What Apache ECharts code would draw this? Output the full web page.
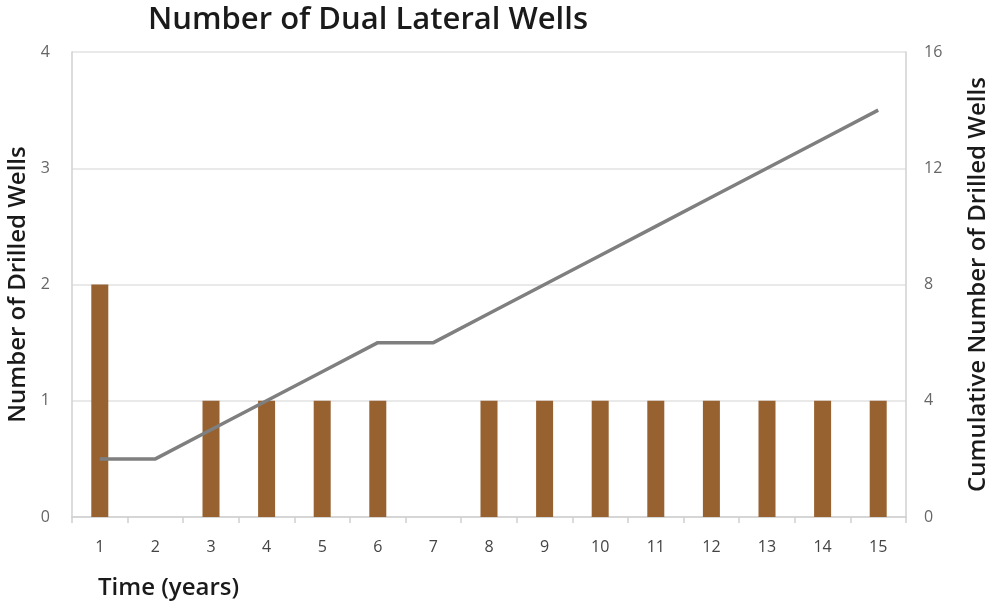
<!DOCTYPE html>
<html>
<head>
<meta charset="utf-8">
<script src="https://cdn.jsdelivr.net/npm/echarts@6/dist/echarts.min.js"></script>
<style>
  html, body { margin: 0; padding: 0; background: #ffffff; }
  #chart { width: 986px; height: 604px; }
</style>
</head>
<body>
<div id="chart"></div>
<script>
// Years on the horizontal axis
const years = ['1','2','3','4','5','6','7','8','9','10','11','12','13','14','15'];
// Wells drilled in each year
const drilledWells = [2, 0, 1, 1, 1, 1, 0, 1, 1, 1, 1, 1, 1, 1, 1];
// Running total of drilled wells
const cumulativeWells = [2, 2, 3, 4, 5, 6, 6, 7, 8, 9, 10, 11, 12, 13, 14];

const FONT = '"Open Sans", "Noto Sans", sans-serif';
const chart = echarts.init(document.getElementById('chart'));

chart.setOption({
  animation: false,
  backgroundColor: '#ffffff',
  title: {
    text: 'Number of Dual Lateral Wells',
    left: 363,
    textAlign: 'center',
    top: 0,
    textStyle: { fontFamily: FONT, fontSize: 31, fontWeight: 600, color: '#1a1a1a' }
  },
  grid: { left: 72, right: 80, top: 52, bottom: 87, outerBoundsMode: 'none', containLabel: false },
  xAxis: {
    type: 'category',
    data: years,
    boundaryGap: true,
    axisLine: { show: true, lineStyle: { color: '#d0d0d0', width: 1.5 } },
    axisTick: { show: true, length: 6, lineStyle: { color: '#d0d0d0', width: 1.5 } },
    axisLabel: { color: '#444444', fontSize: 16, fontFamily: FONT, margin: 22 }
  },
  yAxis: [
    {
      type: 'value',
      min: 0, max: 4, interval: 1,
      name: 'Number of Drilled Wells',
      nameLocation: 'middle',
      nameGap: 42,
      nameTextStyle: { color: '#1a1a1a', fontSize: 24, fontWeight: 600, fontFamily: FONT },
      axisLine: { show: true, lineStyle: { color: '#d0d0d0', width: 1.5 } },
      axisTick: { show: false },
      axisLabel: { color: '#666666', fontSize: 16, fontFamily: FONT, margin: 22 },
      splitLine: { lineStyle: { color: '#e2e2e2', width: 1.5 } }
    },
    {
      type: 'value',
      min: 0, max: 16, interval: 4,
      name: 'Cumulative Number of Drilled Wells',
      nameLocation: 'middle',
      nameGap: 60,
      nameTextStyle: { color: '#1a1a1a', fontSize: 24, fontWeight: 600, fontFamily: FONT },
      axisLine: { show: true, lineStyle: { color: '#d0d0d0', width: 1.5 } },
      axisTick: { show: false },
      axisLabel: { color: '#666666', fontSize: 16, fontFamily: FONT, margin: 18 },
      splitLine: { show: false }
    }
  ],
  series: [
    {
      name: 'Number of Drilled Wells',
      type: 'bar',
      yAxisIndex: 0,
      data: drilledWells,
      barWidth: 17,
      itemStyle: { color: '#976230' }
    },
    {
      name: 'Cumulative Number of Drilled Wells',
      type: 'line',
      yAxisIndex: 1,
      data: cumulativeWells,
      symbol: 'none',
      lineStyle: { color: '#7f7f7f', width: 3.5 }
    }
  ],
  graphic: [
    {
      type: 'text',
      left: 98,
      top: 576,
      style: { text: 'Time (years)', fill: '#1a1a1a', font: '600 24px ' + FONT }
    }
  ]
});
</script>
</body>
</html>
